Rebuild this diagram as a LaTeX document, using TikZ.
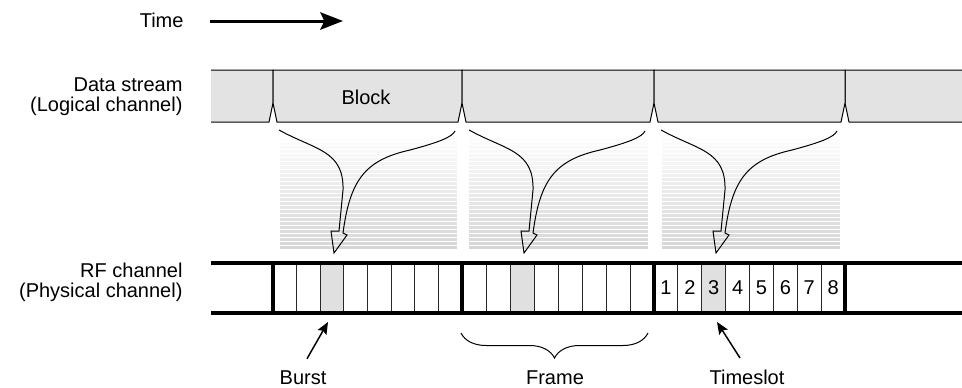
\documentclass[tikz,border=0pt]{standalone}
\usepackage{fontspec}
\setmainfont{Liberation Sans}
\usetikzlibrary{arrows.meta,decorations.pathreplacing,calc}

\tikzset{every picture/.style={line width=0.75pt}}
\tikzset{
  lbl/.style={font=\fontsize{15}{15}\selectfont, inner sep=0.75pt},
  blockfill/.style={fill={rgb, 255:red, 227; green, 227; blue, 227 }},
  slotfill/.style={fill={rgb, 255:red, 224; green, 224; blue, 224 }},
  slotline/.style={draw={rgb, 255:red, 40; green, 40; blue, 40 }, line width=0.75pt},
  rfline/.style={line width=2.4pt},
  framesep/.style={line width=3pt},
  pointer/.style={line width=1.1pt, -{Stealth[length=9pt, width=7.5pt, inset=1.5pt]}},
}

\begin{document}
\begin{tikzpicture}[x=0.75pt,y=0.75pt,yscale=-1,xscale=1]
\useasboundingbox (0,0) rectangle (962,387);

% Text Node
\node (time) [lbl, anchor=base east] at (185,27) {Time};
\coordinate (time start) at (210,21);
\coordinate (time end) at (343,21);
%Straight Lines
\draw [line width=2.25pt, -{Stealth[length=17pt, width=13pt, inset=3pt]}] (time start) -- (time end) ;

% Text Node
\node (logical) [lbl, anchor=east, align=right] at (184,97) {Data stream\\(Logical channel)};
% Text Node
\node (physical) [lbl, anchor=east, align=right] at (184,282) {RF channel\\(Physical channel)};

%Shape: data stream, open ends
\fill [blockfill] (211,70) -- (273,70) -- (273,103) -- (269,122) -- (211,122) -- cycle ;
\draw (211,70) -- (273,70) -- (273,103) -- (269,122) -- (211,122) ;
\fill [blockfill] (962,70) -- (845,70) -- (845,103) -- (849,122) -- (962,122) -- cycle ;
\draw (962,70) -- (845,70) -- (845,103) -- (849,122) -- (962,122) ;
%Shape: data stream, blocks
\foreach \a/\b in {273/462,462/654,654/845}{
  \draw [blockfill] (\a,70) -- (\b,70) -- (\b,103) -- (\b-4,122) -- (\a+4,122) -- (\a,103) -- cycle ;
}
% Text Node
\node (block) [lbl] at (366,97) {Block};

%Shape: fading bands under each block
\foreach \a/\b in {280/457,469/648,662/840}{
  \foreach \i [evaluate=\i as \g using \i*0.55] in {0,...,29}{
    \fill [black!\g] (\a,130+4*\i) rectangle (\b,133+4*\i) ;
  }
}

%Curve Lines: mapping arrows
\foreach \s in {0,190,382}{
  \begin{scope}[shift={(\s,0)}]
  \draw (279,130) .. controls (315,150) and (344,150) .. (343,190) -- (339,231) -- (331,231) -- (334,253) -- (347,235) -- (343,233) .. controls (350,180) and (365,160) .. (410,150) .. controls (440,142) and (452,137) .. (455,131) ;
  \end{scope}
}

%Shape: timeslots
\foreach \a/\b in {273/462,462/654,654/845}{
  \fill [slotfill] ({\a+2*(\b-\a)/8},263) rectangle ({\a+3*(\b-\a)/8},313) ;
  \foreach \k in {1,...,7}{
    \draw [slotline] ({\a+\k*(\b-\a)/8},263) -- ({\a+\k*(\b-\a)/8},313) ;
  }
}
%Straight Lines: RF channel
\draw [rfline] (211,263) -- (962,263) ;
\draw [rfline] (211,313) -- (962,313) ;
\foreach \x in {273,462,654,845}{
  \draw [framesep] (\x,263) -- (\x,313) ;
}
% Text Node: slot numbers
\foreach \k in {1,...,8}{
  \node (slot\k) [lbl] at ({654+(\k-0.5)*191/8},288) {\k};
}

% Text Node
\node (burst) [lbl, anchor=base] at (303,384) {Burst};
\coordinate (burst tip) at (328,322);
\draw [pointer] ($(burst.north)+(4,-10)$) -- (burst tip) ;

% Text Node
\node (timeslot) [lbl, anchor=base] at (747,384) {Timeslot};
\coordinate (timeslot tip) at (717,322);
\draw [pointer] ($(timeslot.north)+(-7,-10)$) -- (timeslot tip) ;

% Text Node
\node (frame) [lbl, anchor=base] at (555,384) {Frame};
\coordinate (frame left) at (461,333);
\coordinate (frame right) at (648,333);
\draw [decorate, decoration={brace, mirror, amplitude=18.75pt}] (frame left) -- (frame right) ;

\end{tikzpicture}
\end{document}
